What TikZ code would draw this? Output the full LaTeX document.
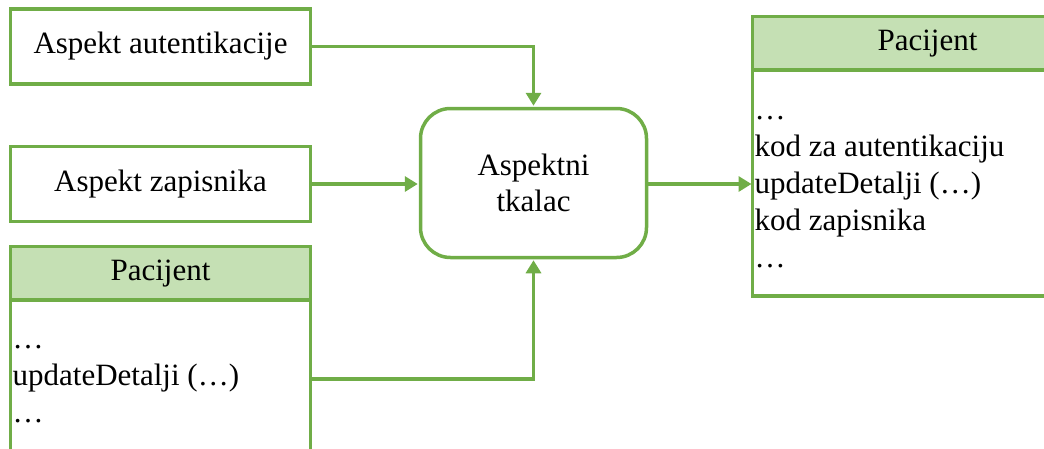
\documentclass[tikz,border=0pt]{standalone}
\usepackage{fontspec}
\setmainfont{Liberation Serif}
\usetikzlibrary{arrows.meta,positioning}
\definecolor{leaf}{HTML}{70AD47}
\definecolor{leaflight}{HTML}{C5E0B4}

\begin{document}
\begin{tikzpicture}[x=1pt,y=-1pt]

\tikzset{aspectbox/.style={draw=leaf,line width=3.5pt,inner sep=0pt,minimum width=300pt,minimum height=75pt,font=\fontsize{31}{36}\selectfont},
classhead/.style={draw=leaf,fill=leaflight,line width=3.5pt,inner sep=0pt,outer sep=0pt,minimum height=53.5pt,font=\fontsize{31}{36}\selectfont},
classbody/.style={draw=leaf,line width=3.5pt,inner sep=0pt,outer sep=0pt},
classtext/.style={inner ysep=0pt,inner xsep=2pt,align=left,anchor=west,font=\fontsize{31}{37}\selectfont},
weave/.style={draw=leaf,line width=3.5pt,-{Triangle[length=13pt,width=15pt]},shorten >=1pt}}

\useasboundingbox (0,0) rectangle (1044,448);
\clip (0,0) rectangle (1044,448);

% aspects
\node (autbox) [aspectbox] at (160.5,46.5) {Aspekt autentikacije};
\node (logbox) [aspectbox] at (160.5,184) {Aspekt zapisnika};

% weaver
\node (weaver) [aspectbox,rounded corners=30pt,minimum width=226pt,minimum height=149pt,align=center] at (533.5,183) {Aspektni\\tkalac};

% class before weaving
\node (lowhead) [classhead,minimum width=300pt,anchor=north west] at (10.5,246.5) {Pacijent};
\node (lowbody) [classbody,minimum width=300pt,minimum height=158pt,anchor=north west] at (lowhead.south west) {};
\node (lowtext) [classtext,yshift=-5pt] at (lowbody.west) {\dots\\updateDetalji (\dots)\\\dots};

% class after weaving
\node (righthead) [classhead,minimum width=350pt,anchor=north west] at (752.5,16.5) {Pacijent};
\node (rightbody) [classbody,minimum width=350pt,minimum height=226pt,anchor=north west] at (righthead.south west) {};
\node (righttext) [classtext,yshift=-9pt] at (rightbody.west) {\dots\\kod za autentikaciju\\updateDetalji (\dots)\\kod zapisnika\\\dots};

% Edges
\draw[weave] (autbox.east) -| (weaver.north);
\draw[weave] (logbox.east) -- (logbox.east -| weaver.west);
\draw[weave] (lowbody.east) -| (weaver.south);
\draw[weave] (weaver.east |- logbox.east) -- (logbox.east -| rightbody.west);

\end{tikzpicture}
\end{document}
